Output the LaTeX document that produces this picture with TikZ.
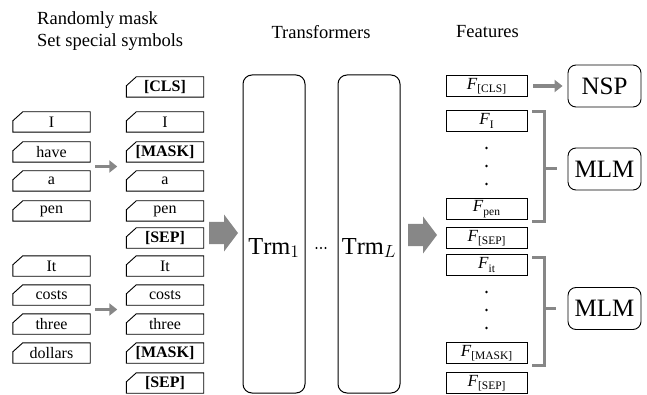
\documentclass[tikz,border=0pt]{standalone}
\usepackage{fontspec}
\setmainfont{Liberation Serif}
\usetikzlibrary{calc,arrows.meta}
\definecolor{agray}{RGB}{135,135,135}
\newcommand{\fsub}[1]{\textit{F}\raisebox{-0.45ex}{\fontsize{11.5}{12}\selectfont #1}}
\begin{document}
\begin{tikzpicture}[x=1pt,y=-1pt,
  tok/.style={minimum width=77pt,minimum height=20pt,inner sep=0pt,font=\fontsize{16}{16}\selectfont},
  tokb/.style={tok,font=\fontsize{16}{16}\selectfont\bfseries},
  feat/.style={draw,line width=0.9pt,minimum width=81pt,minimum height=21pt,inner sep=0pt,font=\fontsize{17}{17}\selectfont},
  trm/.style={draw,line width=1pt,rounded corners=9pt,minimum width=62pt,minimum height=318pt},
  trmtext/.style={font=\fontsize{20}{22}\selectfont,inner sep=0pt},
  task/.style={draw,line width=0.9pt,rounded corners=8pt,minimum width=73pt,minimum height=42pt,font=\fontsize{25}{26}\selectfont},
  head/.style={font=\fontsize{18.5}{20}\selectfont,inner sep=0pt},
  garrow/.style={draw=agray,line width=3.5pt,-{Triangle[length=8pt,width=12pt]}},
  brk/.style={draw=agray,line width=3pt},
  bigarrow/.pic={\fill[agray] (0,-11) -- (15,-11) -- (15,-18.5) -- (29,0) -- (15,18.5) -- (15,11) -- (0,11) -- cycle;}
]
\useasboundingbox (0,0) rectangle (647,395);

% headers
\node[head,anchor=west] (h1) at (37,20) {Randomly mask};
\node[head,anchor=west] (h2) at (37,42) {Set special symbols};
\node[head] (h3) at (321,32) {Transformers};
\node[head] (h4) at (487.5,32) {Features};

% left column
\node[tok] (l1) at (51.5,122) {I};
\node[tok] (l2) at (51.5,152) {have};
\node[tok] (l3) at (51.5,181) {a};
\node[tok] (l4) at (51.5,211) {pen};
\node[tok] (l5) at (51.5,266) {It};
\node[tok] (l6) at (51.5,295) {costs};
\node[tok] (l7) at (51.5,324) {three};
\node[tok] (l8) at (51.5,353) {dollars};

% middle column
\node[tokb] (m0) at (165,87) {[CLS]};
\node[tok] (m1) at (165,122) {I};
\node[tokb] (m2) at (165,152) {[MASK]};
\node[tok] (m3) at (165,181) {a};
\node[tok] (m4) at (165,211) {pen};
\node[tokb] (m5) at (165,238) {[SEP]};
\node[tok] (m6) at (165,266) {It};
\node[tok] (m7) at (165,295) {costs};
\node[tok] (m8) at (165,324) {three};
\node[tokb] (m9) at (165,353) {[MASK]};
\node[tokb] (m10) at (165,383) {[SEP]};

\foreach \n in {l1,l2,l3,l4,l5,l6,l7,l8,m0,m1,m2,m3,m4,m5,m6,m7,m8,m9,m10}
  \draw[line width=0.9pt] (\n.south west) -- (\n.south east) -- (\n.north east)
     -- ([xshift=10pt]\n.north west) -- ([yshift=-9pt]\n.north west) -- cycle;

% small arrows
\draw[garrow] ($($(l2.east)!0.5!(l3.east)$)+(5,0)$) -- ($($(m2.west)!0.5!(m3.west)$)+(-9,0)$);
\draw[garrow] ($($(l6.east)!0.5!(l7.east)$)+(5,0)$) -- ($($(m7.west)!0.5!(m8.west)$)+(-9,0)$);

% transformers
\node[trm] (trm1) at (274,234) {};
\node[trm] (trmL) at (369,234) {};
\node[trmtext] (t1) at (274,248) {\scalebox{1.22}{$\mathrm{Trm}_{1}$}};
\node[trmtext] (tL) at (369,248) {\scalebox{1.22}{$\mathrm{Trm}_L$}};
\coordinate (dots) at (321,248);
\foreach \dx in {-4.5,0,4.5}
  \fill ($(dots)+(\dx,0)$) circle (1.1pt);

% big arrows
\pic at (209,233) {bigarrow};
\pic at (408,235) {bigarrow};

% features
\node[feat] (f0) at (486.5,86) {\fsub{[CLS]}};
\node[feat] (f1) at (486.5,121) {\fsub{I}};
\node[feat] (f2) at (486.5,209) {\fsub{pen}};
\node[feat] (f3) at (486.5,238) {\fsub{[SEP]}};
\node[feat] (f4) at (486.5,265) {\fsub{it}};
\node[feat] (f5) at (486.5,353) {\fsub{[MASK]}};
\node[feat] (f6) at (486.5,383) {\fsub{[SEP]}};
\foreach \yy in {148,166,184,292,310,328}
  \fill (486.5,\yy) circle (1.3pt);

% tasks
\node[task] (nsp) at (604.5,86) {NSP};
\node[task] (mlm1) at (604.5,169) {MLM};
\node[task] (mlm2) at (604.5,308.5) {MLM};

\draw[garrow] ([xshift=6pt]f0.east) -- ([xshift=-5pt]nsp.west);

% brackets
\coordinate (b1t) at ($(f1.north east)+(5,1.5)$);
\coordinate (b1b) at ($(f2.south east)+(5,2)$);
\draw[brk] (b1t) -- ++(12,0) coordinate (b1tr) -- (b1tr |- b1b) -- (b1b);
\draw[brk] (b1tr |- mlm1.west) -- ([xshift=-11pt]mlm1.west);
\coordinate (b2t) at ($(f4.north east)+(5,3)$);
\coordinate (b2b) at ($(f5.south east)+(5,2)$);
\draw[brk] (b2t) -- ++(12,0) coordinate (b2tr) -- (b2tr |- b2b) -- (b2b);
\draw[brk] (b2tr |- mlm2.west) -- ([xshift=-12pt]mlm2.west);
\end{tikzpicture}
\end{document}
